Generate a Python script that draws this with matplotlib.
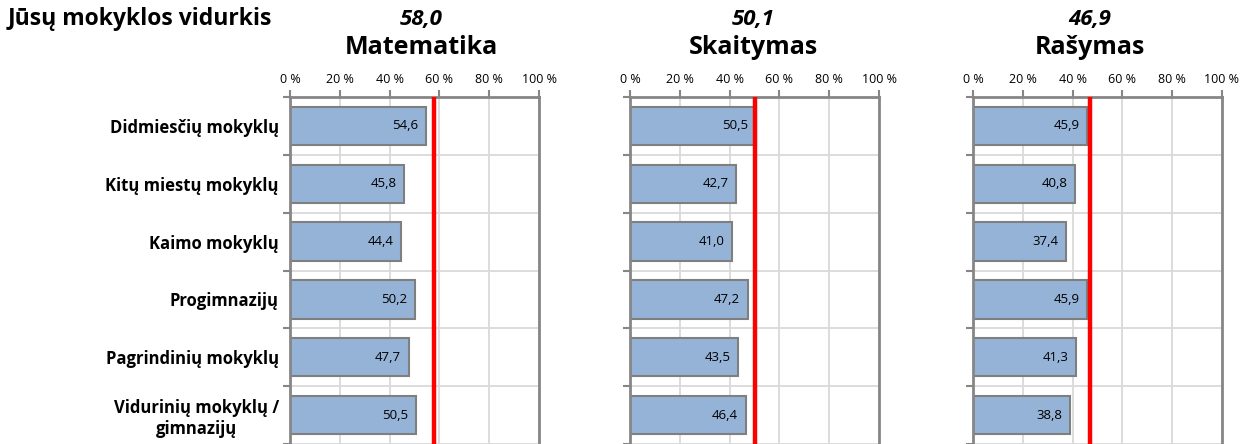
import matplotlib
matplotlib.use("Agg")
import matplotlib.pyplot as plt

categories = ["Didmiesčių mokyklų", "Kitų miestų mokyklų", "Kaimo mokyklų",
              "Progimnazijų", "Pagrindinių mokyklų", "Vidurinių mokyklų /\ngimnazijų"]
subjects = ["Matematika", "Skaitymas", "Rašymas"]
math_vals = [54.6, 45.8, 44.4, 50.2, 47.7, 50.5]
reading_vals = [50.5, 42.7, 41.0, 47.2, 43.5, 46.4]
writing_vals = [45.9, 40.8, 37.4, 45.9, 41.3, 38.8]
school_means = [58.0, 50.1, 46.9]
x_ticks = [0, 20, 40, 60, 80, 100]

plt.rcParams["font.family"] = ["Open Sans", "DejaVu Sans"]

BAR_COLOR = "#95B3D7"
EDGE_COLOR = "#7F7F7F"
SPINE_COLOR = "#868686"
GRID_COLOR = "#D9D9D9"

fig = plt.figure(figsize=(12.42, 4.44), dpi=100)
lefts = [290 / 1242, 630 / 1242, 973 / 1242]
title_x = [421 / 1242, 753 / 1242, 1090 / 1242]
width = 249 / 1242
top = 1 - 97 / 444
bottom = 0.0

def fmt(v):
    return f"{v:.1f}".replace(".", ",")

series = [math_vals, reading_vals, writing_vals]
for k, (subj, vals, mean) in enumerate(zip(subjects, series, school_means)):
    ax = fig.add_axes([lefts[k], bottom, width, top - bottom])
    ypos = [i + 0.5 for i in range(len(categories))]
    ax.barh(ypos, vals, height=0.66, color=BAR_COLOR, edgecolor=EDGE_COLOR,
            linewidth=1.5, zorder=2)
    for y, v in zip(ypos, vals):
        ax.text(v - 3, y, fmt(v), ha="right", va="center", fontsize=9.5, zorder=3)
    ax.axvline(mean, color="#FF0000", linewidth=3.2, zorder=4)

    ax.set_xlim(0, 100)
    ax.set_ylim(6, 0)
    ax.xaxis.tick_top()
    ax.set_xticks(x_ticks)
    ax.set_xticklabels([f"{t} %" for t in x_ticks], fontsize=9)
    ax.set_yticks(range(7))
    ax.set_yticklabels([])
    ax.set_yticks(ypos, minor=True)
    if k == 0:
        ax.set_yticklabels(categories, minor=True, fontsize=12, fontweight="bold",
                           multialignment="center")
    else:
        ax.set_yticklabels([], minor=True)
    ax.tick_params(axis="y", which="minor", length=0, pad=8)
    ax.tick_params(axis="y", which="major", length=5, width=1.5, color=SPINE_COLOR)
    ax.tick_params(axis="x", length=5, width=1.5, color=SPINE_COLOR, pad=3)
    ax.grid(True, which="major", color=GRID_COLOR, linewidth=1.3, zorder=0)
    ax.set_axisbelow(True)
    for side in ["top", "left", "right"]:
        ax.spines[side].set_color(SPINE_COLOR)
        ax.spines[side].set_linewidth(2)
    ax.spines["bottom"].set_visible(False)

    fig.text(title_x[k], 1 - 19 / 444, fmt(mean), ha="center", va="center",
             fontsize=16, fontweight="bold", fontstyle="italic")
    fig.text(title_x[k], 1 - 47 / 444, subj, ha="center", va="center",
             fontsize=18, fontweight="bold")

fig.text(8 / 1242, 1 - 19 / 444, "Jūsų mokyklos vidurkis", ha="left", va="center",
         fontsize=16.5, fontweight="bold")

fig.savefig("out.png", dpi=100)
